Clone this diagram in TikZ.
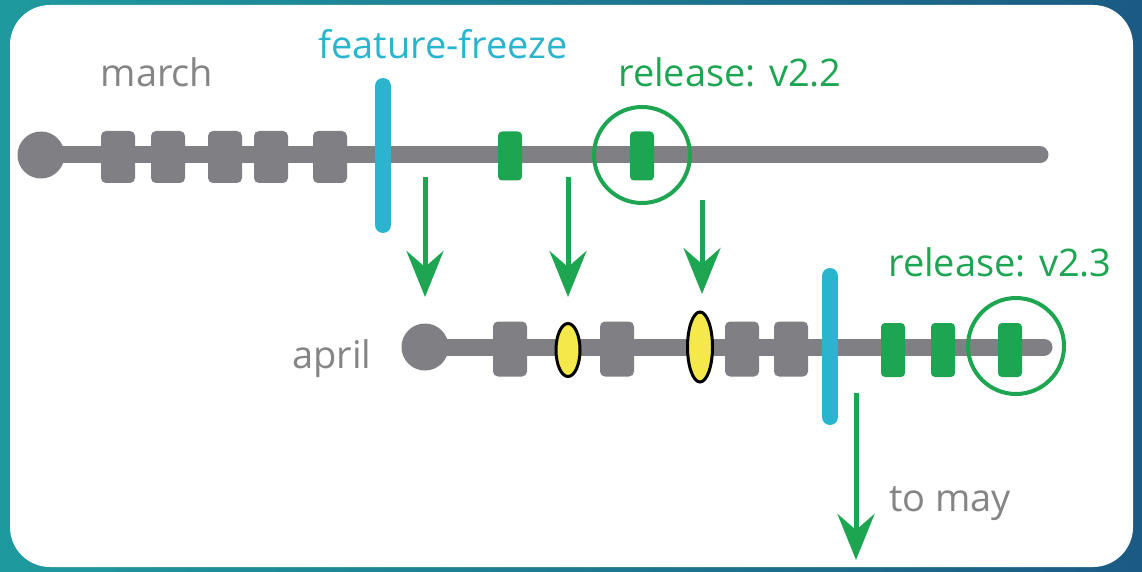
\documentclass[tikz,border=0pt]{standalone}
\usepackage{fontspec}
\setmainfont{Open Sans}
\usetikzlibrary{shapes.geometric,arrows.meta}

\definecolor{tlgray}{HTML}{808084}
\definecolor{txtgray}{HTML}{858585}
\definecolor{tlcyan}{HTML}{2BB4CE}
\definecolor{tlgreen}{HTML}{1DA552}
\definecolor{tlyellow}{HTML}{F5E84A}
\definecolor{frameL}{HTML}{1E9A9E}
\definecolor{frameR}{HTML}{1B5A84}

\tikzset{
  branch/.style={draw=tlgray, line width=17pt, line cap=round},
  startdot/.style={circle, fill=tlgray, minimum size=47pt, inner sep=0pt},
  graycommit/.style={rectangle, fill=tlgray, rounded corners=5pt, minimum width=34pt, minimum height=52pt, inner sep=0pt},
  greencommit/.style={rectangle, fill=tlgreen, rounded corners=4pt, minimum width=24pt, minimum height=49pt, inner sep=0pt},
  hotfix/.style={ellipse, fill=tlyellow, draw=black, line width=3pt, inner sep=0pt},
  releasering/.style={circle, draw=tlgreen, line width=4pt, minimum size=96pt, inner sep=0pt},
  freezebar/.style={draw=tlcyan, line width=16pt, line cap=round},
  mergearrow/.style={draw=tlgreen, line width=5pt, -{Stealth[length=46pt,width=37pt,inset=16pt]}},
  label/.style={font=\fontsize{38}{42}\selectfont, inner sep=0pt}
}

\begin{document}
\begin{tikzpicture}[x=1pt,y=-1pt]
  \useasboundingbox (0,0) rectangle (1142,572);
  % frame and card
  \shade[left color=frameL, right color=frameR] (0,0) rectangle (1142,572);
  \fill[white, rounded corners=40pt] (10,5) rectangle (1133,567);

  % march branch
  \node[startdot] (m0) at (41,155) {};
  \coordinate (mend) at (1040,155);
  \draw[branch] (m0.center) -- (mend);
  \node[graycommit] (m1) at (118,157) {};
  \node[graycommit] (m2) at (168,157) {};
  \node[graycommit] (m3) at (225,157) {};
  \node[graycommit] (m4) at (271,157) {};
  \node[graycommit] (m5) at (330,157) {};
  \node[greencommit] (m6) at (510,156) {};
  \node[greencommit] (m7) at (642,156) {};
  \node[releasering] (r22) at (642,155) {};

  % april branch
  \node[startdot] (a0) at (425,347) {};
  \coordinate (aend) at (1044,347);
  \draw[branch] (a0.center) -- (aend);
  \node[graycommit, minimum height=55pt] (a1) at (510,349) {};
  \node[hotfix, minimum width=24pt, minimum height=53pt] (h1) at (568,350) {};
  \node[graycommit, minimum height=55pt] (a2) at (617,349) {};
  \node[hotfix, minimum width=25pt, minimum height=70pt] (h2) at (700,347) {};
  \node[graycommit, minimum height=55pt] (a3) at (742,349) {};
  \node[graycommit, minimum height=55pt] (a4) at (791,349) {};
  \node[greencommit, minimum height=54pt] (a5) at (893,350) {};
  \node[greencommit, minimum height=54pt] (a6) at (943,350) {};
  \node[greencommit, minimum height=54pt] (a7) at (1010,350) {};
  \node[releasering] (r23) at (1016,346) {};

  % feature freezes
  \coordinate (f1t) at (383,86);  \coordinate (f1b) at (383,225);
  \coordinate (f2t) at (830,276); \coordinate (f2b) at (830,417);
  \draw[freezebar] (f1t) -- (f1b);
  \draw[freezebar] (f2t) -- (f2b);

  % merges into april
  \coordinate (s1) at (425,177); \coordinate (e1) at (425,297);
  \coordinate (s2) at (568,177); \coordinate (e2) at (568,297);
  \coordinate (s3) at (702,200); \coordinate (e3) at (702,294);
  \coordinate (s4) at (856,393); \coordinate (e4) at (856,560);
  \draw[mergearrow] (s1) -- (e1);
  \draw[mergearrow] (s2) -- (e2);
  \draw[mergearrow] (s3) -- (e3);
  \draw[mergearrow] (s4) -- (e4);

  % labels
  \node[label, text=tlcyan] (tff) at (443,44) {feature-freeze};
  \node[label, text=txtgray] (tmar) at (157,72) {march};
  \node[label, text=tlgreen] (t22) at (730,72) {release: v2.2};
  \node[label, text=tlgreen] (t23) at (1000,262) {release: v2.3};
  \node[label, text=txtgray] (tapr) at (332,359) {april};
  \node[label, text=txtgray] (tmay) at (950,504) {to may};
\end{tikzpicture}
\end{document}
